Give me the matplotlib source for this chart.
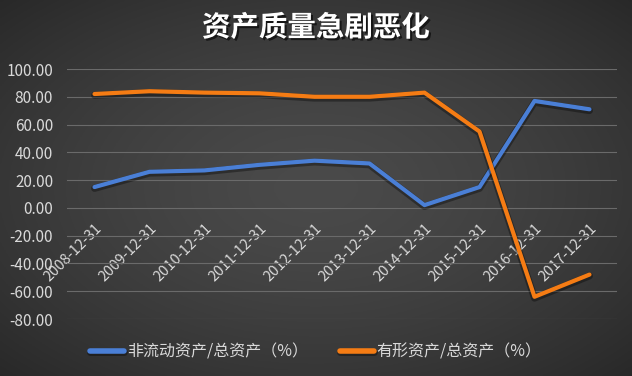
import numpy as np
import matplotlib.pyplot as plt
import matplotlib.patheffects as pe
import matplotlib.transforms as mtransforms

plt.rcParams['font.family'] = ['Noto Sans CJK SC', 'DejaVu Sans']

# data
dates = ['2008-12-31', '2009-12-31', '2010-12-31', '2011-12-31', '2012-12-31',
         '2013-12-31', '2014-12-31', '2015-12-31', '2016-12-31', '2017-12-31']
noncurrent = [15, 26, 27, 31, 34, 32, 2, 15, 77, 71]
tangible = [82, 84, 83, 82.5, 80, 80, 83, 55, -64, -48]
yticks = [100, 80, 60, 40, 20, 0, -20, -40, -60, -80]

fig = plt.figure(figsize=(6.32, 3.76), dpi=100)

# radial gradient background
bg = fig.add_axes([0, 0, 1, 1], zorder=-10)
yy, xx = np.mgrid[-1:1:200j, -1:1:300j]
r = np.sqrt(xx**2 + yy**2) / np.sqrt(2)
shade = 0.29 - 0.13 * r**1.5
bg.imshow(np.dstack([shade, shade, shade]), aspect='auto', extent=[0, 1, 0, 1])
bg.axis('off')

ax = fig.add_axes([67/632, 57/376, 550/632, 250/376])
ax.patch.set_alpha(0)
x = np.arange(len(dates))

glow = [pe.SimpleLineShadow(offset=(0, -1), shadow_color='black', alpha=0.35, linewidth=5), pe.Normal()]
ax.plot(x, noncurrent, color='#4a7fd6', lw=3, solid_capstyle='round', path_effects=glow,
        label='非流动资产/总资产（%）', zorder=3)
ax.plot(x, tangible, color='#f57c14', lw=3, solid_capstyle='round', path_effects=glow,
        label='有形资产/总资产（%）', zorder=3)

ax.set_xlim(-0.5, len(dates) - 0.5)
ax.set_ylim(-80, 100)
ax.set_yticks(yticks)
ax.set_yticklabels(['%.2f' % v for v in yticks])
ax.grid(axis='y', color='#6a6a6a', lw=0.8)
ax.set_axisbelow(True)
for s in ['top', 'right', 'left']:
    ax.spines[s].set_visible(False)
ax.spines['bottom'].set_position(('data', 0))
ax.spines['bottom'].set_visible(False)
ax.tick_params(axis='y', length=0, colors='#d9d9d9', labelsize=11, pad=10)
ax.tick_params(axis='x', length=0, colors='#d9d9d9', labelsize=10.5, pad=13)
ax.set_xticks(x)
ax.set_xticklabels(dates, rotation=45, ha='right', va='center', rotation_mode='anchor')
shift = mtransforms.ScaledTranslation(5/100, 0, fig.dpi_scale_trans)
for lab in ax.get_xticklabels():
    lab.set_color('#d9d9d9')
    lab.set_transform(lab.get_transform() + shift)

fig.text(0.5, 0.925, '资产质量急剧恶化', ha='center', va='center', color='white',
         fontsize=20.5, fontweight='bold',
         path_effects=[pe.withSimplePatchShadow(offset=(1.5, -1.5), shadow_rgbFace='black', alpha=0.6)])

leg = fig.legend(*ax.get_legend_handles_labels(), loc='center', bbox_to_anchor=(0.5, 24/376),
                 ncol=2, frameon=False, fontsize=11.5, handlelength=2.1, columnspacing=2.0,
                 handletextpad=0.2)
for t in leg.get_texts():
    t.set_color('#d9d9d9')
for h in leg.get_lines():
    h.set_linewidth(4)

fig.savefig('out.png', dpi=100)
